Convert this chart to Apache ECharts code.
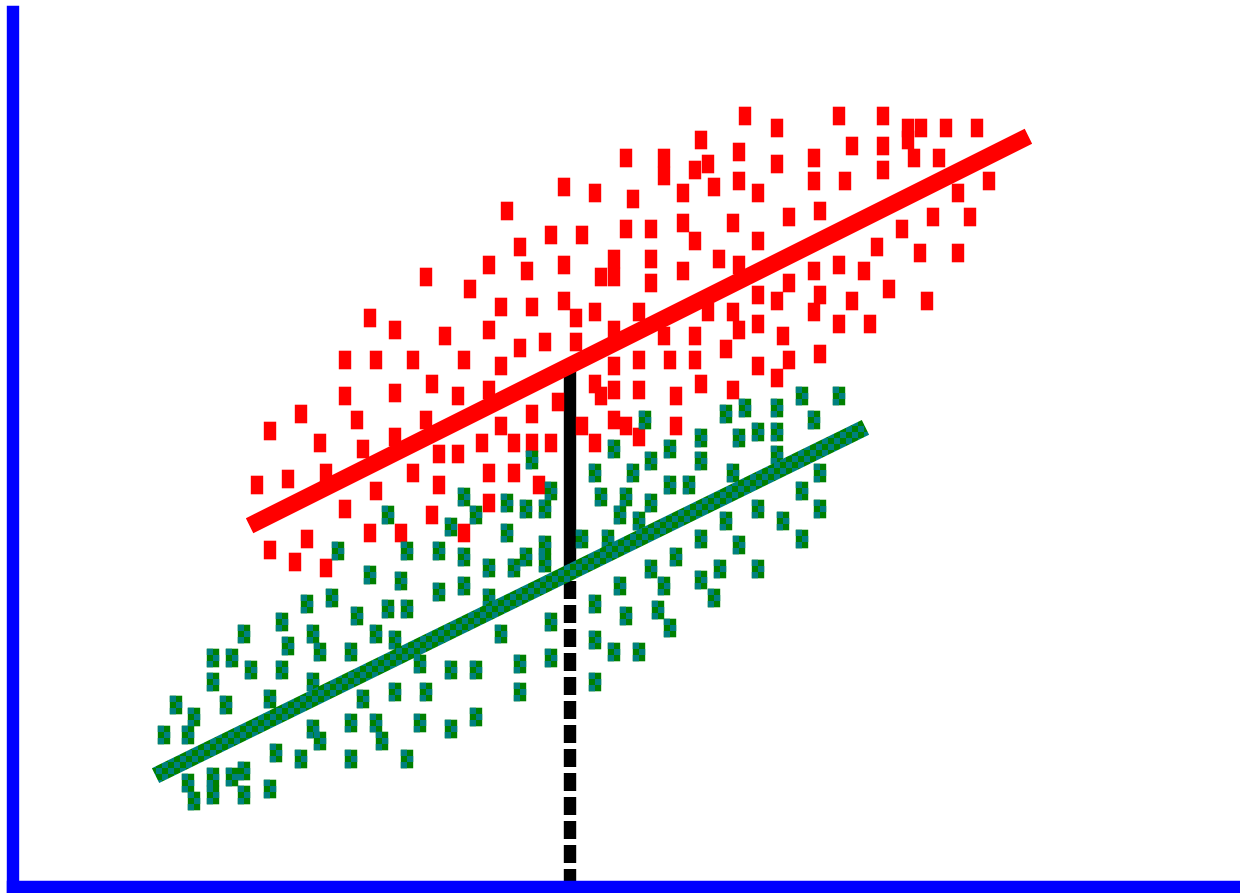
<!DOCTYPE html>
<html>
<head>
<meta charset="utf-8">
<script src="https://cdn.jsdelivr.net/npm/echarts@6/dist/echarts.min.js"></script>
<style>
html,body{margin:0;padding:0;background:#fff;}
#chart{width:1240px;height:893px;}
</style>
</head>
<body>
<div id="chart"></div>
<script>
// Values (x, y in plot units; origin at the axes corner)
const redPoints = [
[732,771],[826,771],[870,771],
[764,759],[895,759],[908,759],[933,759],[964,759],
[688,747],[895,747],[839,741],[870,741],[726,735],
[613,729],[651,729],[651,711],[695,723],[682,717],[764,723],[801,729],[901,729],[926,729],[870,717],
[551,700],[582,694],[620,688],[670,694],[701,700],[726,706],[745,694],[801,706],[832,706],[945,694],[976,706],
[494,676],[776,670],[807,676],[920,670],[957,670],
[569,652],[538,652],[613,658],[638,658],[670,664],[682,646],[720,664],[745,646],[889,658],[864,640],[907,634],[945,634],
[507,640],[476,622],[514,616],[551,622],[601,628],[601,610],[588,610],[638,628],[638,604],[670,616],[706,628],[726,622],[801,616],[826,622],[851,616],[776,604],[876,598],
[413,610],[457,598],[488,580],[519,580],[551,586],[563,569],[582,575],[626,575],[695,575],[720,575],[801,575],[745,592],[764,586],[807,592],[839,586],[914,586],
[357,569],[382,557],[432,551],[476,557],[507,539],[532,545],[563,545],[601,557],[651,551],[682,551],[726,557],[745,563],[770,551],[826,563],[857,563],[713,538],[807,533],
[332,527],[363,527],[400,527],[451,527],[488,521],[601,521],[626,527],[657,527],[682,527],[745,521],[776,527],[764,509],
[419,503],[582,503],[588,491],[601,497],[626,497],[663,491],[688,503],[720,497],
[332,491],[382,494],[445,491],[476,497],[545,485],
[288,473],[344,467],[413,467],[488,461],[519,473],[569,461],[601,467],[613,461],[626,450],[663,461],
[257,456],[307,444],[350,438],[382,450],[426,433],[445,433],[469,444],[501,444],[519,444],[538,444],[582,444],
[244,402],[275,408],[313,414],[400,414],[476,414],[501,414],[526,402],[363,396],[426,402],
[332,378],[419,372],[476,384],
[294,348],[357,354],[388,354],[451,354],
[257,337],[282,325],[313,319]
];
const greenPoints = [
[789,491],[826,491],[732,479],[764,479],[713,473],[801,467],[632,467],[745,455],[764,455],[688,449],[726,449],
[601,438],[657,438],[638,426],[688,426],[764,432],[582,414],[620,414],[807,414],[720,414],[657,402],[676,402],
[789,396],[588,390],[613,390],[538,396],[519,427],[494,384],[513,378],[532,378],[638,384],[607,372],[626,366],
[713,366],[745,378],[770,366],[807,378],[494,354],[532,342],[569,348],[595,348],[688,348],[726,342],[789,348],
[513,330],[501,319],[532,324],[663,330],[638,318],[707,318],[745,318],[688,307],[651,301],[607,301],[701,289],
[582,283],[613,271],[645,277],[657,259],[538,265],[488,253],[582,247],[601,235],[626,235],[507,223],[538,229],
[582,205],[507,195],
[451,390],[463,372],[375,372],[438,360],[325,336],[394,336],[426,336],[451,330],[476,319],[357,312],[388,306],
[426,295],[451,301],[319,289],[294,283],[476,289],[269,265],[344,271],[394,278],[375,278],[231,253],[300,253],
[363,253],[382,247],[275,241],[307,235],[338,235],[200,229],[219,229],[238,217],[269,217],[407,223],[438,217],
[463,217],[200,205],[300,205],[163,182],[213,182],[257,188],[350,188],[382,195],[413,195],[181,170],[151,152],
[175,152],[300,158],[307,146],[338,164],[363,164],[369,146],[407,164],[438,158],[463,170],[263,134],[288,128],
[338,128],[394,128],[200,110],[219,110],[231,116],[175,104],[257,98],[200,92],[231,92],[181,86]
];
const redFitLine = [[244,365],[1008,747]];
const greenFitLine = [[150,115],[845,456]];
const guideX = 557;
const guideTopY = 521;
const guideMidY = 315;

const CELL = 6.2;
function checkerCanvas(){
  const c = document.createElement('canvas');
  c.width = 12; c.height = 12;
  const g = c.getContext('2d');
  g.fillStyle = '#008000'; g.fillRect(0,0,12,12);
  g.fillStyle = '#008080'; g.fillRect(0,0,6,6); g.fillRect(6,6,6,6);
  return c;
}
const checker = checkerCanvas();

const chart = echarts.init(document.getElementById('chart'), null, {renderer:'canvas'});
const markerSize = [2*CELL, 3*CELL];
const axisLineStyle = {color: '#0000ff', width: 2*CELL, cap: 'square'};
chart.setOption({
  animation: false,
  backgroundColor: '#ffffff',
  grid: {left: 13, right: 0, top: 12, bottom: 6},
  xAxis: {
    type: 'value', min: 0, max: 1227, z: 10,
    axisLine: {show: true, onZero: false, lineStyle: axisLineStyle},
    axisTick: {show: false}, axisLabel: {show: false}, splitLine: {show: false}
  },
  yAxis: {
    type: 'value', min: 0, max: 875, z: 10,
    axisLine: {show: true, onZero: false, lineStyle: axisLineStyle},
    axisTick: {show: false}, axisLabel: {show: false}, splitLine: {show: false}
  },
  series: [
    {
      type: 'line', z: 1, silent: true, showSymbol: false, clip: false,
      data: [[guideX, 0], [guideX, guideMidY]],
      lineStyle: {color: '#000000', width: 2*CELL, type: [18, 6], cap: 'butt', opacity: 1}
    },
    {
      type: 'line', z: 1, silent: true, showSymbol: false, clip: false,
      data: [[guideX, guideMidY], [guideX, guideTopY]],
      lineStyle: {color: '#000000', width: 2*CELL, cap: 'butt', opacity: 1}
    },
    {
      type: 'scatter', z: 2, silent: true, symbol: 'rect', symbolSize: markerSize,
      data: redPoints, itemStyle: {color: '#ff0000', opacity: 1}
    },
    {
      type: 'scatter', z: 2, silent: true, symbol: 'rect', symbolSize: markerSize,
      data: greenPoints, itemStyle: {color: '#008000', opacity: 1}
    },
    {
      type: 'scatter', z: 2, silent: true,
      symbol: 'path://M0 0H1V1H0Z M1 1H2V2H1Z M0 2H1V3H0Z', symbolKeepAspect: false,
      symbolSize: markerSize,
      data: greenPoints, itemStyle: {color: '#008080', opacity: 1}
    },
    {
      type: 'line', z: 3, silent: true, showSymbol: false, clip: false,
      data: redFitLine,
      lineStyle: {color: '#ff0000', width: 16.6, cap: 'square', opacity: 1}
    },
    {
      type: 'line', z: 3, silent: true, showSymbol: false, clip: false,
      data: greenFitLine,
      lineStyle: {color: {image: checker, repeat: 'repeat'}, width: 16.6, cap: 'square', opacity: 1}
    }
  ]
});
</script>
</body>
</html>
